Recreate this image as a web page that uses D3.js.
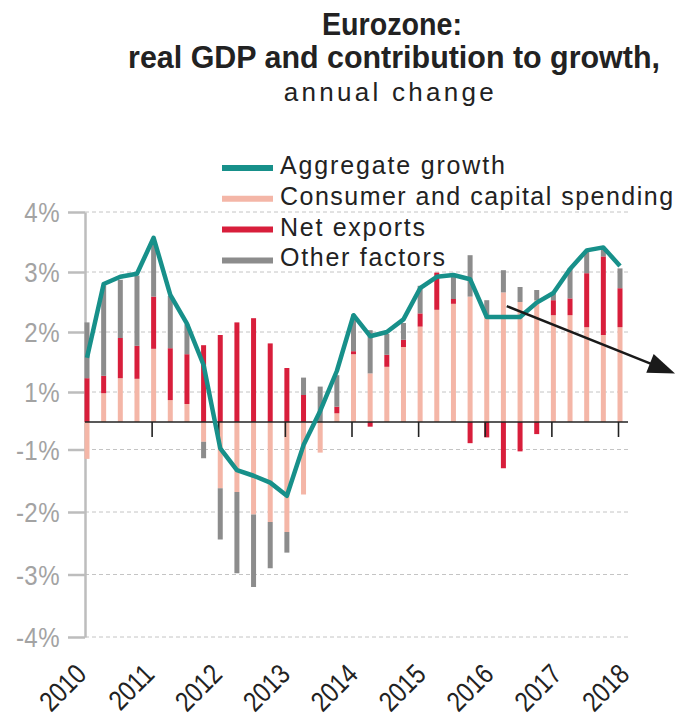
<html>
<script src="https://cdn.jsdelivr.net/npm/d3@7"></script>
<body style="margin:0;background:#fff">
<svg width=687 height=727></svg>
</body>
<script>

// quarterly data, 2010 Q1 .. 2018 Q1 (values in %)
var quarters = ["2010Q1","2010Q2","2010Q3","2010Q4","2011Q1","2011Q2","2011Q3","2011Q4",
  "2012Q1","2012Q2","2012Q3","2012Q4","2013Q1","2013Q2","2013Q3","2013Q4",
  "2014Q1","2014Q2","2014Q3","2014Q4","2015Q1","2015Q2","2015Q3","2015Q4",
  "2016Q1","2016Q2","2016Q3","2016Q4","2017Q1","2017Q2","2017Q3","2017Q4","2018Q1"];
var consumer = [-1.15,0.96,1.23,1.22,1.72,0.73,0.60,-0.72,-1.62,-1.68,-2.04,-2.16,-2.32,-1.72,-1.05,0.29,
  1.63,1.31,1.42,1.75,2.09,2.37,2.47,2.59,2.25,2.66,2.50,2.53,2.28,2.28,2.08,1.95,2.08];
var netExports = [1.23,0.31,0.67,0.55,0.87,1.00,1.03,1.78,1.95,2.16,2.23,1.81,1.40,0.90,0.00,0.22,
  0.05,-0.17,0.20,0.12,0.22,0.62,0.08,-0.77,-0.56,-1.30,-1.03,-0.44,0.25,0.28,0.90,1.31,0.65];
var otherFactors = [0.93,1.51,0.97,1.17,0.86,0.87,0.50,-0.42,-0.82,-1.30,-1.16,-0.74,-0.33,0.34,1.09,0.77,
  0.61,0.72,0.35,0.28,0.46,0.00,0.37,0.69,0.28,0.37,0.25,0.17,0.13,0.50,0.36,0.13,0.33];
var aggregate = [1.57,2.80,2.92,2.97,3.57,2.62,2.14,1.45,-0.96,-1.33,-1.42,-1.53,-1.74,-0.84,0.37,1.35,
  2.28,1.93,2.00,2.21,2.73,2.92,2.95,2.88,2.25,2.25,2.25,2.49,2.65,3.05,3.36,3.41,3.10];

var yTicks = [4,3,2,1,-1,-2,-3,-4];
var years = [2010,2011,2012,2013,2014,2015,2016,2017,2018];
var seriesNames = ["Aggregate growth","Consumer and capital spending","Net exports","Other factors"];

// no condensed face installed, so Liberation Sans gets squeezed horizontally
var font = "'Liberation Sans',Arial,sans-serif";
var teal = "#17908a", pink = "#f4b6a7", red = "#d81e3b", grey = "#8c8c8c";

var svg = d3.select("svg").attr("font-family", font);

var x = d3.scaleLinear().domain([2010, 2018]).range([85, 618]);
// the printed axis has no 0% gridline, so the scale is piecewise around the baseline
var y = d3.scaleLinear().domain([-4, -1, 0, 1, 4]).range([637, 449.5, 422, 392, 212]);
var xLabel = d3.scaleLinear().domain([2010, 2018]).range([88, 631]);

function qx(i) {
  var yr = +quarters[i].slice(0,4), q = +quarters[i].slice(5);
  return x(yr + (q-1)/4) + 2;
}

// condensed text. o.w = width in the print: squeeze up to 0.8, then spread letters if still short
function label(parent, px, py, str, size, o) {
  o = o || {};
  var g = parent.append("g");
  var t = g.append("text").attr("font-size", size).attr("text-anchor", o.anchor || "start")
    .attr("font-weight", o.bold ? "bold" : null).text(str);
  var s = o.s || 0.85, ls = 0;
  if (o.w) {
    var len = t.node().getComputedTextLength();
    s = Math.max(0.8, Math.min(1, o.w / len));
    ls = Math.max(0, (o.w / s - len) / (String(str).length - 1));
    t.attr("letter-spacing", ls.toFixed(2));
    if (o.anchor == "middle") t.attr("dx", (-ls / 2).toFixed(2));
  }
  if (o.ls) t.attr("letter-spacing", o.ls);
  g.attr("transform", "translate(" + px + "," + py + ")" +
    (o.rot ? " rotate(" + o.rot + ")" : "") + " scale(" + s.toFixed(3) + ",1)");
  return t;
}

// title
var title = svg.append("g").attr("fill", "#222");
label(title, 392, 35, "Eurozone:", 32, {w: 140, anchor: "middle", bold: true});
label(title, 394, 68, "real GDP and contribution to growth,", 32, {w: 532, anchor: "middle", bold: true});
label(title, 392, 101, "annual change", 26, {w: 210, anchor: "middle"});

// gridlines
svg.append("g").selectAll("line").data(yTicks).enter().append("line")
  .attr("x1", 85).attr("x2", 628)
  .attr("y1", function(d){ return y(d); }).attr("y2", function(d){ return y(d); })
  .attr("stroke", "#c4c4c4").attr("stroke-width", 1).attr("stroke-dasharray", "4,3");

// y axis
var ya = svg.append("g").attr("transform", "translate(85,0)")
  .call(d3.axisLeft(y).tickValues(yTicks).tickSize(17).tickSizeOuter(0).tickFormat(""));
ya.select(".domain").attr("stroke", "#bdbdbd").attr("stroke-width", 2.5);
ya.selectAll(".tick line").attr("stroke", "#bdbdbd").attr("stroke-width", 2.5);
var yl = svg.append("g").attr("fill", "#a3a3a3");
yTicks.forEach(function(d) {
  label(yl, 60, y(d) + 10, d + "%", 28, {anchor: "end", s: 0.86, ls: 0.5});
});

// legend
var legendColors = [teal, pink, red, grey];
var legendW = [225, 393, 145, 165];
var lg = svg.append("g").attr("fill", "#222");
seriesNames.forEach(function(name, i) {
  var ly = 168 + i * 30.8;
  lg.append("line").attr("x1", 222).attr("x2", 273).attr("y1", ly).attr("y2", ly)
    .attr("stroke", legendColors[i]).attr("stroke-width", 6);
  label(lg, 280, ly + 6, name, 25, {w: legendW[i]});
});

// stacked bars
var rows = quarters.map(function(q, i) {
  return {i: i, consumer: consumer[i], net: netExports[i], other: otherFactors[i]};
});
var stack = d3.stack().keys(["consumer","net","other"]).offset(d3.stackOffsetDiverging)(rows);
var barColors = {consumer: pink, net: red, other: grey};
svg.append("g").selectAll("g").data(stack).enter().append("g")
  .attr("fill", function(s){ return barColors[s.key]; })
  .selectAll("rect").data(function(s){ return s; }).enter().append("rect")
  .attr("x", function(d){ return qx(d.data.i) - 2.5; })
  .attr("width", 5)
  .attr("y", function(d){ return y(Math.max(d[0], d[1])); })
  .attr("height", function(d){ return y(Math.min(d[0], d[1])) - y(Math.max(d[0], d[1])); });

// baseline and year ticks
svg.append("line").attr("x1", 85).attr("x2", 628).attr("y1", y(0)).attr("y2", y(0))
  .attr("stroke", "#222").attr("stroke-width", 1.6);
var xa = svg.append("g").attr("transform", "translate(0," + y(0) + ")")
  .call(d3.axisBottom(x).tickValues(years.slice(1)).tickSize(15).tickFormat(""));
xa.select(".domain").remove();
xa.selectAll(".tick line").attr("stroke", "#222").attr("stroke-width", 1.6);

// year labels
var xl = svg.append("g").attr("fill", "#222");
years.forEach(function(d) {
  label(xl, xLabel(d), 676, d, 28, {anchor: "end", rot: -45, s: 0.84});
});

// aggregate growth line
svg.append("path").datum(aggregate)
  .attr("d", d3.line().x(function(d, i){ return qx(i); }).y(function(d){ return y(d); }))
  .attr("fill", "none").attr("stroke", teal).attr("stroke-width", 4.5)
  .attr("stroke-linejoin", "round");

// arrow
var a0 = [x(2016.33), y(2.43)], a1 = [x(2018.856), y(1.31)];
var dx = a1[0] - a0[0], dy = a1[1] - a0[1], len = Math.sqrt(dx*dx + dy*dy);
var ux = dx / len, uy = dy / len, hl = 27, hw = 10;
var bx = a1[0] - ux * hl, by = a1[1] - uy * hl;
svg.append("line").attr("x1", a0[0]).attr("y1", a0[1]).attr("x2", bx + ux*2).attr("y2", by + uy*2)
  .attr("stroke", "#1a1a1a").attr("stroke-width", 2.5);
svg.append("polygon")
  .attr("points", [[a1[0], a1[1]], [bx - uy*hw, by + ux*hw], [bx + uy*hw, by - ux*hw]].join(" "))
  .attr("fill", "#1a1a1a");

</script>
</html>
